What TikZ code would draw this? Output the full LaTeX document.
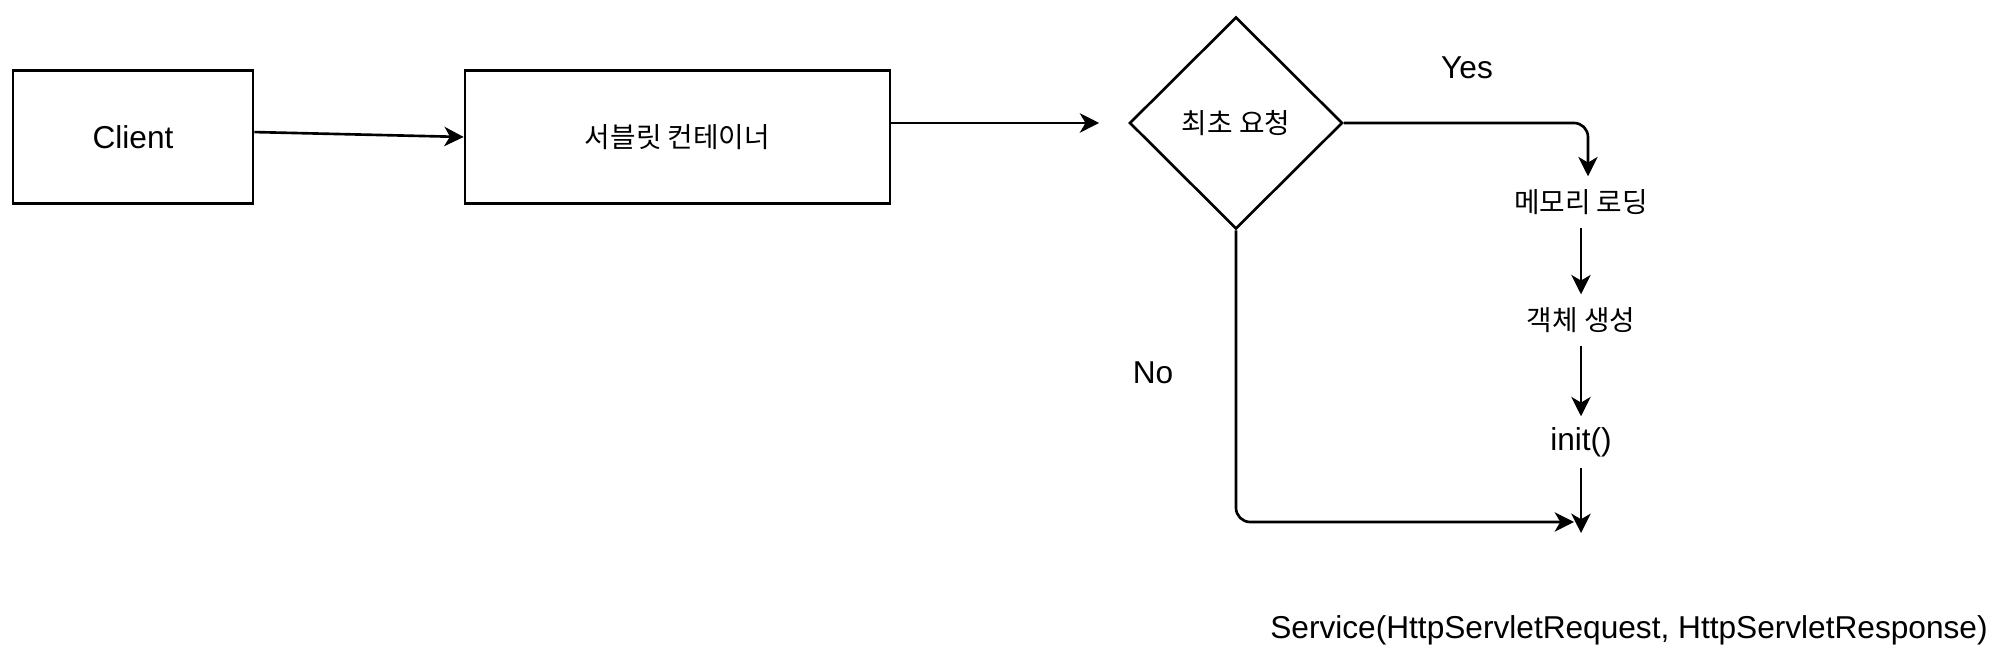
\documentclass[tikz,border=0pt]{standalone}
\usepackage{fontspec}
\setmainfont{Liberation Sans}
\newfontfamily\kor{Noto Sans CJK KR}
\usetikzlibrary{positioning,shapes.geometric,arrows.meta}
\tikzset{
  box/.style={draw, line width=0.75pt, minimum width=2.4cm, minimum height=1.33cm, align=center},
  korfont/.style={font=\kor\fontsize{7.9pt}{9pt}\selectfont},
  steptext/.style={korfont, inner sep=0pt, minimum height=0.5cm},
  flow/.style={-{Stealth[length=5.5pt,width=5.5pt,inset=1.6pt]}, line width=0.75pt}
}
\begin{document}
\begin{tikzpicture}[font=\fontsize{9pt}{11pt}\selectfont]
  \useasboundingbox (0,0) rectangle (20,6.59);
  % Boîtes du haut
  \node[box] (client) at (1.33,5.22) {Client};
  \node[box, korfont, minimum width=4.25cm] (cont) at (6.775,5.22) {서블릿 컨테이너};
  \node[draw, diamond, korfont, line width=0.75pt, minimum width=2.13cm, minimum height=2.12cm, inner sep=0pt] (first) at (12.36,5.36) {최초 요청};

  % Étapes (colonne de droite)
  \node[steptext] (mem) at (15.81,4.57) {메모리 로딩};
  \node[steptext] (obj) at (15.81,3.39) {객체 생성};
  \node[steptext, font=\fontsize{9pt}{11pt}\selectfont] (init) at (15.81,2.17) {init()};
  \coordinate (merge) at (15.81,1.37);

  % Flèches
  \draw[flow] ([yshift=1.4pt]client.east) -- (cont.west);
  \draw[flow, shorten >=0.29cm] (cont.east |- first.west) -- (first.west);
  \draw[flow, rounded corners=4pt] (first.east) -| ([xshift=0.07cm]mem.north);
  \draw[flow] (mem.south) -- (obj.north);
  \draw[flow] (obj.south) -- (init.north);
  \draw[flow] (init.south) -- ([yshift=-0.11cm]merge);
  \draw[flow, rounded corners=4pt] (first.south) |- ([xshift=-0.07cm]merge);

  % Labels
  \node (yes) at (14.67,5.91) {Yes};
  \node (no) at (11.53,2.86) {No};
  \node (service) at (16.29,0.29) {Service(HttpServletRequest, HttpServletResponse)};
\end{tikzpicture}
\end{document}
